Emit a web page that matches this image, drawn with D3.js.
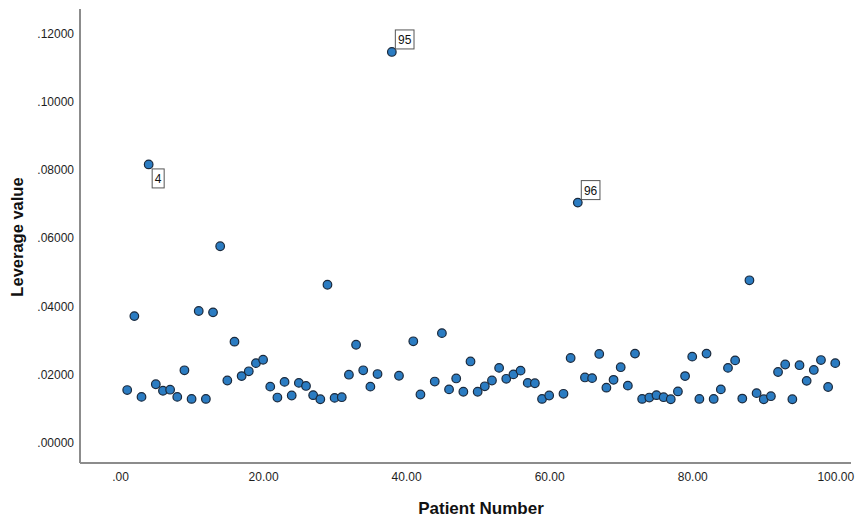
<!DOCTYPE html>
<html>
<head>
<meta charset="utf-8">
<script src="https://cdn.jsdelivr.net/npm/d3@7/dist/d3.min.js"></script>
<style>
  html, body { margin: 0; padding: 0; background: #fff; }
  svg { display: block; font-family: Arial, "Liberation Sans", sans-serif; }
</style>
</head>
<body>
<svg id="chart" width="862" height="517"></svg>
<script>
// Patient number (x) and leverage value (y) for each case
const patientNumber = [1,2,3,4,5,6,7,8,9,10,11,12,13,14,15,16,17,18,19,20,
  21,22,23,24,25,26,27,28,29,30,31,32,33,34,35,36,38,39,41,42,
  44,45,46,47,48,49,50,51,52,53,54,55,56,57,58,59,60,62,63,64,
  65,66,67,68,69,70,71,72,73,74,75,76,77,78,79,80,81,82,83,84,
  85,86,87,88,89,90,91,92,93,94,95,96,97,98,99,100];
const leverage = [0.0154,0.0371,0.0134,0.0816,0.0171,0.0152,0.0155,0.0134,0.0212,0.0128,
  0.0386,0.0128,0.0382,0.0576,0.0182,0.0296,0.0195,0.0209,0.0233,0.0243,
  0.0164,0.0132,0.0178,0.0138,0.0175,0.0166,0.0139,0.0127,0.0463,0.0131,
  0.0133,0.0199,0.0287,0.0212,0.0164,0.0201,0.1146,0.0196,0.0297,0.0141,
  0.0179,0.0321,0.0156,0.0188,0.0149,0.0238,0.0149,0.0165,0.0182,0.0219,
  0.0187,0.0200,0.0211,0.0175,0.0174,0.0128,0.0138,0.0143,0.0248,0.0704,
  0.0191,0.0189,0.0260,0.0161,0.0184,0.0221,0.0167,0.0261,0.0128,0.0132,
  0.0139,0.0133,0.0127,0.0150,0.0195,0.0252,0.0128,0.0261,0.0128,0.0156,
  0.0219,0.0241,0.0129,0.0476,0.0145,0.0127,0.0136,0.0207,0.0229,0.0127,
  0.0227,0.0181,0.0213,0.0242,0.0163,0.0233];

// Case IDs shown next to the flagged points
const labelledPatients = [4, 38, 64];
const labelledCases = ["4", "95", "96"];

const xTicks = [0, 20, 40, 60, 80, 100];
const yTicks = [0, 0.02, 0.04, 0.06, 0.08, 0.10, 0.12];

const points = patientNumber.map((p, i) => ({ p, v: leverage[i] }));

const svg = d3.select("#chart");
const plotLeft = 80, plotRight = 851, plotTop = 9, plotBottom = 463;

const x = d3.scaleLinear().domain([-5.6, 102.2]).range([plotLeft, plotRight]);
const y = d3.scaleLinear().domain([-0.006, 0.1272]).range([plotBottom, plotTop]);

const stripZero = s => s.replace(/^0\./, ".").replace(/^-0\./, "-.");
const fmtX = d => stripZero(d3.format(".2f")(d));
const fmtY = d => stripZero(d3.format(".5f")(d));

// Axes without tick marks
const xAxis = svg.append("g")
  .attr("transform", `translate(0,${plotBottom})`)
  .call(d3.axisBottom(x).tickValues(xTicks).tickFormat(fmtX).tickSize(0).tickPadding(9));
const yAxis = svg.append("g")
  .attr("transform", `translate(${plotLeft},0)`)
  .call(d3.axisLeft(y).tickValues(yTicks).tickFormat(fmtY).tickSize(0).tickPadding(6));

[xAxis, yAxis].forEach(a => {
  a.select(".domain").attr("stroke", "#8c8c8c").attr("stroke-width", 2);
  a.selectAll("text").attr("fill", "#1e1e1e").style("font-size", "12px");
});
xAxis.select(".domain").attr("d", `M${plotLeft},0H${plotRight}`);
yAxis.select(".domain").attr("d", `M0,${plotTop}V${plotBottom}`);

// Axis titles
svg.append("text")
  .attr("x", 481).attr("y", 514)
  .attr("text-anchor", "middle")
  .style("font-size", "17px").style("font-weight", "bold").attr("fill", "#111")
  .text("Patient Number");
svg.append("text")
  .attr("transform", `translate(23,237) rotate(-90)`)
  .attr("text-anchor", "middle")
  .style("font-size", "16.5px").style("font-weight", "bold").attr("fill", "#111")
  .text("Leverage value");

// Points
svg.append("g").selectAll("circle")
  .data(points)
  .join("circle")
  .attr("cx", d => x(d.p))
  .attr("cy", d => y(d.v))
  .attr("r", 4.3)
  .attr("fill", "#2b7cc2")
  .attr("stroke", "#1b2a3d")
  .attr("stroke-width", 1.2);

// Case labels in boxes
labelledPatients.forEach((p, i) => {
  const d = points.find(q => q.p === p);
  const px = x(d.p), py = y(d.v);
  const below = i === 0;
  const g = svg.append("g");
  const t = g.append("text")
    .style("font-size", "12px").attr("fill", "#111")
    .text(labelledCases[i]);
  const bb = t.node().getBBox();
  const w = bb.width + 5, h = 19;
  const bx = px + 3.5;
  const by = below ? py + 4.5 : py - 3 - h;
  g.insert("rect", "text")
    .attr("x", bx).attr("y", by).attr("width", w).attr("height", h)
    .attr("fill", "#fff").attr("stroke", "#555").attr("stroke-width", 1);
  t.attr("x", bx + w / 2).attr("y", by + h / 2 + 4.5).attr("text-anchor", "middle");
});
</script>
</body>
</html>
